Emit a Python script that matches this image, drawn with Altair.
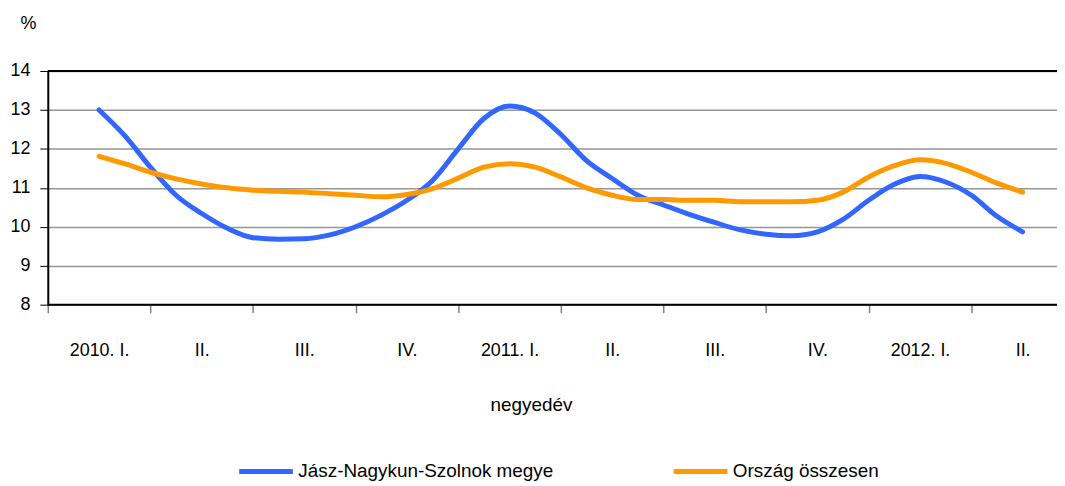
import json
import altair as alt
import pandas as pd

series_names = ["Jász-Nagykun-Szolnok megye", "Ország összesen"]
series_colors = ["#3366FF", "#FF9900"]
quarter_labels = ["2010. I.", "II.", "III.", "IV.", "2011. I.", "II.",
                  "III.", "IV.", "2012. I.", "II."]
periods = list(range(2, 39))
jnsz = [13.0, 12.34, 11.53, 10.81, 10.34, 9.96, 9.72, 9.68, 9.69, 9.79,
        10.0, 10.3, 10.68, 11.19, 12.0, 12.78, 13.1, 12.92, 12.37, 11.7,
        11.24, 10.81, 10.56, 10.32, 10.11, 9.92, 9.81, 9.77, 9.87, 10.19,
        10.68, 11.09, 11.29, 11.15, 10.81, 10.27, 9.87]
orszag = [11.81, 11.62, 11.4, 11.23, 11.1, 11.0, 10.94, 10.91, 10.89, 10.85,
          10.81, 10.77, 10.83, 10.98, 11.25, 11.53, 11.62, 11.53, 11.28, 11.0,
          10.81, 10.7, 10.7, 10.68, 10.68, 10.64, 10.64, 10.64, 10.68, 10.89,
          11.28, 11.57, 11.72, 11.63, 11.4, 11.12, 10.89]
y_ticks = [8, 9, 10, 11, 12, 13, 14]
x_ticks = list(range(0, 40, 4))
border_values = [8, 14]

rows = []
for name, vals in zip(series_names, [jnsz, orszag]):
    for p, v in zip(periods, vals):
        rows.append({"series": name, "period": p, "value": v})
df = pd.DataFrame(rows)

label_expr = json.dumps(quarter_labels) + "[round(datum.value / 4)]"

x_scale = alt.Scale(domain=[0, 39.34], nice=False, zero=False)
y_scale = alt.Scale(domain=[8, 14], nice=False, zero=False)

y_axis = alt.Axis(
    values=y_ticks, grid=True, gridColor="#969696", gridWidth=1.5,
    domainColor="black", domainWidth=2, tickColor="black", tickSize=8,
    tickWidth=1, labelFontSize=18, labelPadding=10, labelColor="black",
    labelOverlap=False, labelFlush=False, labelBound=False,
    title="%", titleAngle=0, titleX=-20, titleY=-48, titleAlign="center",
    titleBaseline="middle", titleFontSize=18, titleFontWeight="normal",
    titleColor="black")

lines = alt.Chart(df).mark_line(
    strokeWidth=5, interpolate="monotone", strokeCap="round", strokeJoin="round"
).encode(
    x=alt.X("period:Q", scale=x_scale, axis=alt.Axis(
        values=x_ticks, labelExpr=label_expr, labelOffset=51.6,
        labelFlush=False, labelOverlap=False, labelBound=False,
        tickSize=8, tickColor="#808080", tickWidth=1.5, domain=False,
        grid=False, labelFontSize=18, labelPadding=29, labelColor="black",
        title="negyedév", titleX=486, titleY=100, titleFontSize=19,
        titleFontWeight="normal", titleBaseline="middle", titleAlign="center",
        titleColor="black")),
    y=alt.Y("value:Q", scale=y_scale, axis=y_axis),
    color=alt.Color("series:N", scale=alt.Scale(domain=series_names, range=series_colors),
                    legend=alt.Legend(
                        orient="none", legendX=190, legendY=373, direction="horizontal",
                        symbolType="stroke", symbolSize=2916, symbolStrokeWidth=5,
                        labelFontSize=19, labelOffset=3, columnPadding=110,
                        labelLimit=600, title=None, labelColor="black")),
)

borders = alt.Chart(pd.DataFrame({"y": border_values})).mark_rule(
    color="black", strokeWidth=2
).encode(y=alt.Y("y:Q", scale=y_scale, axis=y_axis))

chart = alt.layer(lines, borders).properties(
    width=1015, height=235,
    autosize=alt.AutoSizeParams(type="none"),
    padding={"left": 40, "top": 62, "right": 0, "bottom": 178},
).configure_view(stroke=None).configure(font="Liberation Sans")

chart.save("out.html", embed_options={"renderer": "svg", "actions": False})
